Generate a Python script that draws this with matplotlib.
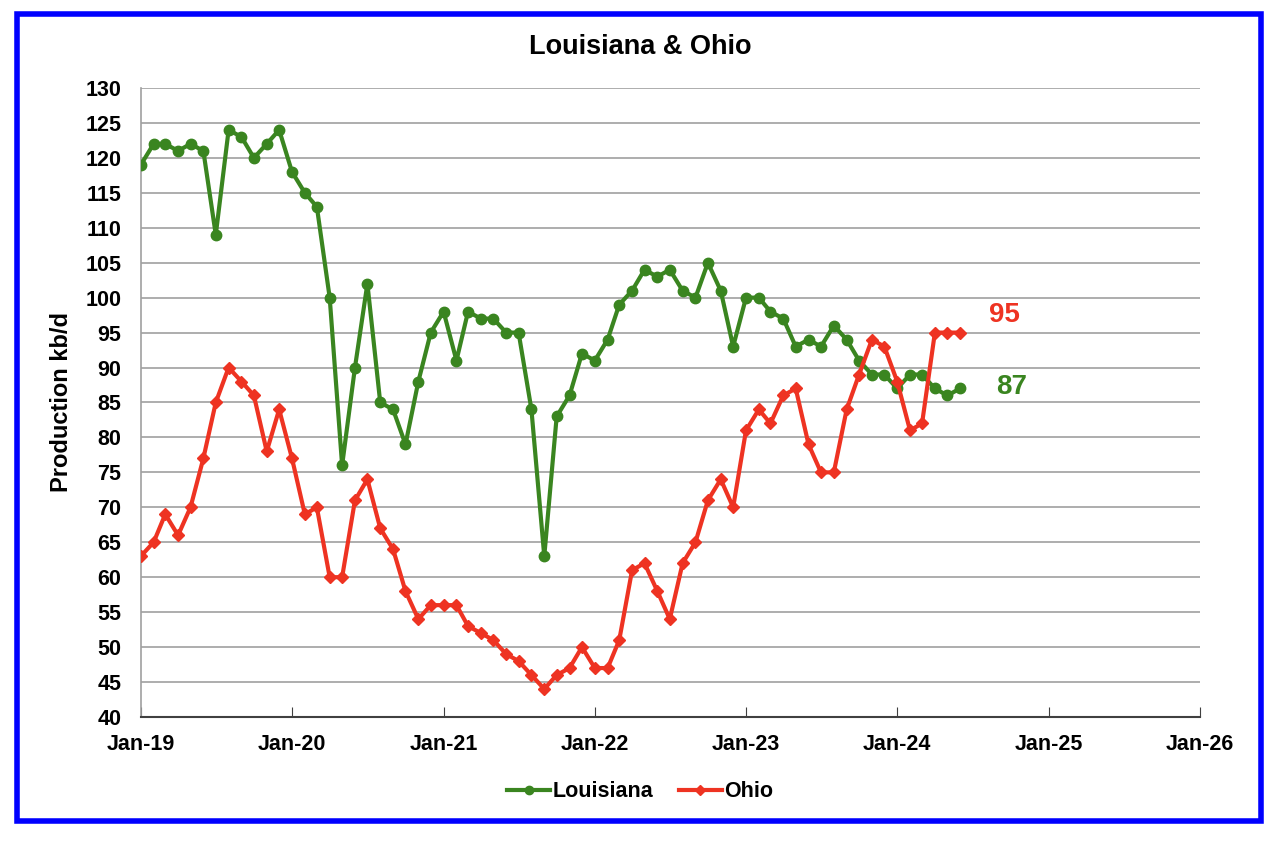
import matplotlib
matplotlib.use("Agg")
import matplotlib.pyplot as plt
import matplotlib.dates as mdates
from matplotlib.patches import Rectangle
import pandas as pd

plt.rcParams['font.family'] = ['Liberation Sans', 'DejaVu Sans']

dates = pd.date_range("2019-01-01", "2024-06-01", freq="MS")

louisiana = [119, 122, 122, 121, 122, 121, 109, 124, 123, 120, 122, 124,
             118, 115, 113, 100, 76, 90, 102, 85, 84, 79, 88, 95,
             98, 91, 98, 97, 97, 95, 95, 84, 63, 83, 86, 92,
             91, 94, 99, 101, 104, 103, 104, 101, 100, 105, 101, 93,
             100, 100, 98, 97, 93, 94, 93, 96, 94, 91, 89, 89,
             87, 89, 89, 87, 86, 87]

ohio = [63, 65, 69, 66, 70, 77, 85, 90, 88, 86, 78, 84,
        77, 69, 70, 60, 60, 71, 74, 67, 64, 58, 54, 56,
        56, 56, 53, 52, 51, 49, 48, 46, 44, 46, 47, 50,
        47, 47, 51, 61, 62, 58, 54, 62, 65, 71, 74, 70,
        81, 84, 82, 86, 87, 79, 75, 75, 84, 89, 94, 93,
        88, 81, 82, 95, 95, 95]

green = '#3a8520'
red = '#ee3322'

fig = plt.figure(figsize=(12.8, 8.42), dpi=100)
ax = fig.add_axes([0.110, 0.1485, 0.8275, 0.747])

ax.plot(dates, louisiana, color=green, lw=3, marker='o', ms=7.5, label='Louisiana', zorder=3)
ax.plot(dates, ohio, color=red, lw=3, marker='D', ms=6, label='Ohio', zorder=4)

ax.set_ylim(40, 130)
ax.set_yticks(range(40, 131, 5))
ax.set_xlim(pd.Timestamp("2019-01-01"), pd.Timestamp("2026-01-01"))
ax.set_xticks([pd.Timestamp(f"{y}-01-01") for y in range(2019, 2027)])
ax.xaxis.set_major_formatter(mdates.DateFormatter('%b-%y'))

ax.grid(axis='y', color='#a0a0a0', lw=1.2)
ax.set_axisbelow(True)
for s in ['top', 'right']:
    ax.spines[s].set_visible(False)
ax.spines['left'].set_color('#a0a0a0')
ax.spines['left'].set_linewidth(1.2)
ax.spines['bottom'].set_color('#404040')
ax.spines['bottom'].set_linewidth(1.5)
ax.tick_params(axis='y', length=0, labelsize=15.5, pad=14)
ax.tick_params(axis='x', direction='in', length=7, labelsize=15.5, pad=12, color='#404040')
for lab in ax.get_xticklabels() + ax.get_yticklabels():
    lab.set_fontweight('bold')

ax.set_ylabel('Production kb/d', fontsize=17, fontweight='bold', labelpad=9)
fig.text(0.5, 0.944, 'Louisiana & Ohio', ha='center', va='center', fontsize=19.5, fontweight='bold')

ax.annotate('95', xy=(pd.Timestamp("2024-06-01"), 95), xytext=(32, 13), textcoords='offset points',
            color=red, fontsize=20, fontweight='bold', ha='center', va='center')
ax.annotate('87', xy=(pd.Timestamp("2024-06-01"), 87), xytext=(37, 1), textcoords='offset points',
            color=green, fontsize=20, fontweight='bold', ha='center', va='center')

leg = fig.legend(loc='center', bbox_to_anchor=(0.5, 0.0594), ncol=2, frameon=False,
                 fontsize=15.5, handlelength=2.0, columnspacing=1.2, handletextpad=0.1,
                 markerscale=0.8)
for t in leg.get_texts():
    t.set_fontweight('bold')

fig.patches.append(Rectangle((17 / 1280, 1 - 821 / 842), 1244 / 1280, 807 / 842,
                             transform=fig.transFigure, fill=False, edgecolor='#0000ff', lw=4))

fig.savefig('out.png', dpi=100)
